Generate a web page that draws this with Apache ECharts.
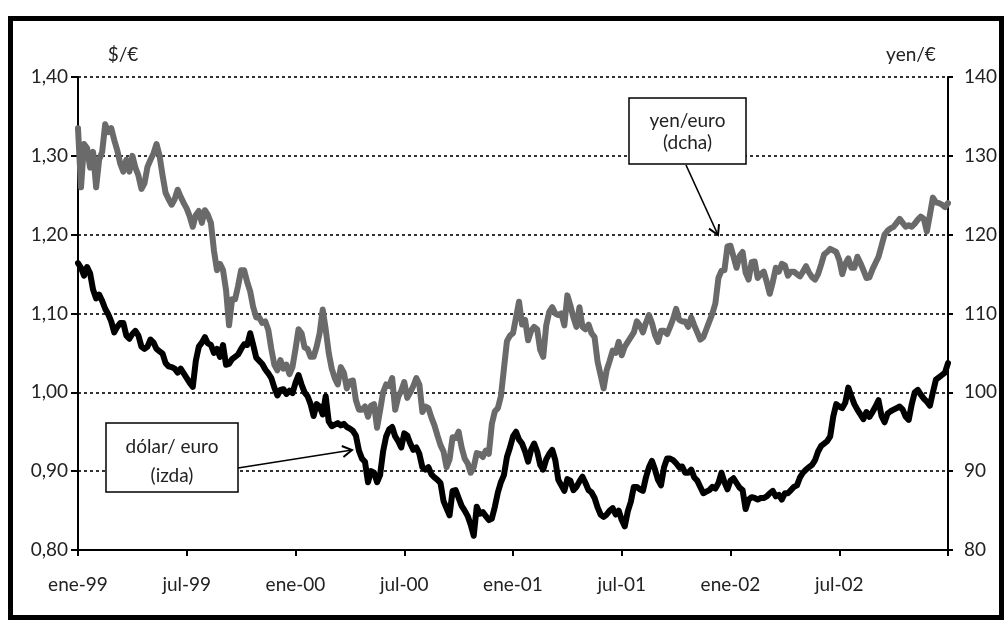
<!DOCTYPE html>
<html>
<head>
<meta charset="utf-8">
<script src="https://cdn.jsdelivr.net/npm/echarts@6/dist/echarts.min.js"></script>
<style>
  html, body { margin: 0; padding: 0; background: #fff; }
  #chart { width: 1008px; height: 621px; }
</style>
</head>
<body>
<div id="chart"></div>
<script>
// Tick labels of the time axis (one every 6 months, starting ene-99)
const timeTickLabels = ['ene-99', 'jul-99', 'ene-00', 'jul-00', 'ene-01', 'jul-01', 'ene-02', 'jul-02'];
// samples are read every 1/6 month from ene-99 to ene-03
const samplesPerMonth = 6;
const leftAxisName = '$/€';
const rightAxisName = 'yen/€';
const yenLabel = ['yen/euro', '(dcha)'];
const usdLabel = ['dólar/ euro', '(izda)'];

// yen per euro (right axis)
const yenEuro = [
  133.5,126.0,131.5,131.0,128.5,130.5,126.0,129.5,130.5,134.0,
  133.0,133.5,132.0,130.7,129.0,128.0,129.5,128.0,130.0,128.5,
  127.5,125.8,126.5,128.6,129.5,130.3,131.5,130.0,127.5,125.3,
  124.5,123.8,124.5,125.7,124.8,124.0,123.3,122.3,121.0,122.5,
  123.0,121.5,123.1,122.5,121.5,118.0,115.5,116.3,115.5,113.0,
  108.5,111.8,111.8,113.5,115.5,115.5,114.0,112.8,110.8,109.5,
  109.5,108.8,109.0,107.9,105.5,103.5,102.8,104.1,103.0,103.5,
  102.3,103.2,105.5,108.0,107.5,105.7,105.5,104.5,104.5,105.8,
  107.5,110.5,108.0,105.0,103.0,101.8,101.0,103.2,102.5,100.5,
  101.4,101.5,99.0,97.8,97.8,98.2,96.9,98.3,98.5,95.5,
  97.7,100.0,101.0,100.8,101.8,97.8,99.4,100.2,101.3,99.3,
  100.0,100.8,101.8,101.0,97.5,98.2,98.0,96.8,95.8,94.5,
  93.3,92.5,90.5,91.5,94.3,94.2,95.0,93.0,91.6,91.0,
  89.8,90.5,92.3,92.2,91.8,92.6,92.2,96.0,97.6,98.0,
  99.5,103.0,106.5,107.2,107.5,109.5,111.5,108.6,109.2,106.6,
  107.8,108.3,108.0,105.4,104.5,108.5,110.2,110.8,110.0,109.8,
  110.0,108.5,112.3,111.0,109.5,108.3,110.8,108.3,108.0,108.6,
  107.5,107.0,103.9,102.2,100.5,102.8,104.0,105.3,105.0,106.4,
  104.7,105.8,106.4,107.0,107.6,109.0,108.5,107.6,108.8,109.8,
  108.8,107.3,106.4,107.8,107.8,107.4,108.3,109.3,110.6,109.2,
  109.0,109.0,108.3,109.5,108.5,107.6,106.7,107.0,108.0,109.0,
  110.0,111.3,114.5,115.4,115.5,118.5,118.6,117.2,115.8,117.3,
  117.8,115.2,114.3,116.5,116.6,114.5,115.0,115.3,114.0,112.5,
  114.0,115.8,115.3,116.3,116.1,114.8,115.3,115.3,115.0,114.7,
  115.3,116.0,115.2,114.6,114.3,115.0,116.2,117.5,117.8,118.2,
  118.0,117.8,116.8,115.0,116.3,117.0,115.8,115.8,117.2,116.4,
  115.5,114.5,114.6,115.6,116.4,117.2,118.6,120.0,120.5,120.8,
  121.0,121.5,122.0,121.5,121.0,121.2,121.0,121.4,121.9,122.3,
  122.0,120.4,122.5,124.7,124.1,124.0,123.8,123.5,124.0
];

// dollars per euro (left axis)
const usdEuro = [
  1.164,1.158,1.148,1.159,1.151,1.130,1.119,1.124,1.116,1.106,
  1.099,1.090,1.076,1.083,1.088,1.088,1.072,1.068,1.074,1.078,
  1.072,1.058,1.055,1.058,1.067,1.063,1.055,1.052,1.049,1.037,
  1.033,1.032,1.030,1.025,1.030,1.024,1.018,1.012,1.007,1.040,
  1.058,1.063,1.070,1.062,1.060,1.050,1.055,1.045,1.060,1.035,
  1.036,1.042,1.045,1.048,1.055,1.061,1.060,1.075,1.060,1.044,
  1.040,1.036,1.029,1.024,1.018,1.006,0.996,1.003,1.004,0.998,
  1.002,0.999,1.012,1.022,1.010,1.000,0.995,0.985,0.970,0.985,
  0.982,0.972,0.995,0.963,0.957,0.959,0.961,0.958,0.960,0.956,
  0.954,0.951,0.945,0.926,0.916,0.912,0.886,0.900,0.898,0.886,
  0.895,0.925,0.944,0.953,0.956,0.944,0.938,0.930,0.948,0.945,
  0.935,0.927,0.930,0.922,0.905,0.902,0.905,0.896,0.892,0.889,
  0.885,0.862,0.853,0.844,0.875,0.876,0.866,0.856,0.850,0.843,
  0.832,0.818,0.855,0.846,0.848,0.843,0.838,0.840,0.855,0.873,
  0.886,0.895,0.918,0.930,0.944,0.950,0.940,0.935,0.925,0.912,
  0.927,0.935,0.925,0.908,0.902,0.915,0.922,0.927,0.914,0.889,
  0.882,0.875,0.890,0.888,0.876,0.880,0.887,0.893,0.885,0.876,
  0.873,0.866,0.854,0.845,0.842,0.845,0.850,0.853,0.845,0.850,
  0.838,0.830,0.849,0.861,0.880,0.880,0.877,0.875,0.892,0.905,
  0.913,0.902,0.889,0.882,0.905,0.916,0.916,0.914,0.910,0.905,
  0.906,0.898,0.898,0.902,0.892,0.888,0.880,0.872,0.874,0.876,
  0.880,0.878,0.885,0.898,0.886,0.877,0.888,0.891,0.885,0.879,
  0.876,0.852,0.864,0.867,0.866,0.864,0.866,0.866,0.868,0.872,
  0.875,0.868,0.870,0.864,0.872,0.872,0.876,0.880,0.882,0.892,
  0.898,0.902,0.905,0.908,0.914,0.925,0.932,0.935,0.938,0.944,
  0.969,0.985,0.982,0.980,0.987,1.006,0.995,0.985,0.978,0.972,
  0.966,0.975,0.969,0.975,0.982,0.990,0.970,0.962,0.973,0.976,
  0.978,0.980,0.982,0.978,0.969,0.965,0.985,1.000,1.003,0.997,
  0.992,0.988,0.983,1.000,1.016,1.019,1.022,1.025,1.037
];

const toPairs = arr => arr.map((v, i) => [i / samplesPerMonth, v]);

const FONT = 'Lato';
const FS = 19;
const chart = echarts.init(document.getElementById('chart'), null, { renderer: 'canvas' });

function arrow(x1, y1, x2, y2) {
  const ang = Math.atan2(y2 - y1, x2 - x1);
  const L = 11, a = Math.PI / 6;
  const p1 = [x2 - L * Math.cos(ang - a), y2 - L * Math.sin(ang - a)];
  const p2 = [x2 - L * Math.cos(ang + a), y2 - L * Math.sin(ang + a)];
  return [
    { type: 'line', z: 100, shape: { x1, y1, x2, y2 }, style: { stroke: '#000', lineWidth: 1.6 } },
    { type: 'polyline', z: 100, shape: { points: [p1, [x2, y2], p2] }, style: { stroke: '#000', lineWidth: 2, fill: null } }
  ];
}

function box(x, y, w, h, lines, cx, y0, dy) {
  const els = [{ type: 'rect', z: 99, shape: { x, y, width: w, height: h },
    style: { fill: '#fff', stroke: '#000', lineWidth: 1.5 } }];
  lines.forEach((t, i) => els.push({ type: 'text', z: 101, x: cx, y: y0 + i * dy,
    style: { text: t, font: FS + 'px ' + FONT, fill: '#222', align: 'center', verticalAlign: 'middle' } }));
  return els;
}

const option = {
  backgroundColor: '#fff',
  animation: false,
  grid: { left: 78, right: 60, top: 77, bottom: 71, containLabel: false },
  xAxis: {
    type: 'value', min: 0, max: 48, interval: 6,
    axisLine: { show: true, lineStyle: { color: '#000', width: 2 } },
    axisTick: { show: true, length: 6, lineStyle: { color: '#000', width: 2 } },
    axisLabel: { margin: 25, fontFamily: FONT, fontSize: FS, color: '#222',
      formatter: v => timeTickLabels[Math.round(v / 6)] || '' },
    splitLine: { show: false }
  },
  yAxis: [
    {
      type: 'value', min: 0.8, max: 1.4, interval: 0.1, position: 'left',
      axisLine: { show: true, lineStyle: { color: '#000', width: 2 } },
      axisTick: { show: true, length: 7, lineStyle: { color: '#000', width: 2 } },
      axisLabel: { margin: 10, fontFamily: FONT, fontSize: FS, color: '#222',
        formatter: v => v.toFixed(2).replace('.', ',') },
      splitLine: { show: true, lineStyle: { color: '#000', width: 1.6, type: [3, 3] } }
    },
    {
      type: 'value', min: 80, max: 140, interval: 10, position: 'right',
      axisLine: { show: true, lineStyle: { color: '#000', width: 2 } },
      axisTick: { show: true, length: 5, lineStyle: { color: '#000', width: 2 } },
      axisLabel: { margin: 16, fontFamily: FONT, fontSize: FS, color: '#222' },
      splitLine: { show: false }
    }
  ],
  series: [
    {
      name: 'yen/euro', type: 'line', yAxisIndex: 1, data: toPairs(yenEuro),
      showSymbol: false, smooth: false, z: 2,
      lineStyle: { color: '#6a6a6a', width: 6, join: 'round', cap: 'round' }
    },
    {
      name: 'dólar/euro', type: 'line', yAxisIndex: 0, data: toPairs(usdEuro),
      showSymbol: false, smooth: false, z: 3,
      lineStyle: { color: '#000', width: 6, join: 'round', cap: 'round' }
    }
  ],
  graphic: [
    { type: 'rect', z: 0, shape: { x: 10.5, y: 18.5, width: 991, height: 599 },
      style: { fill: null, stroke: '#000', lineWidth: 5 } },
    { type: 'text', x: 123, y: 55, style: { text: leftAxisName, font: FS + 'px ' + FONT, fill: '#222', align: 'center', verticalAlign: 'middle' } },
    { type: 'text', x: 911, y: 55, style: { text: rightAxisName, font: FS + 'px ' + FONT, fill: '#222', align: 'center', verticalAlign: 'middle' } },
    ...box(629, 98, 117, 66, yenLabel, 687.5, 121, 22),
    ...arrow(686, 165, 718, 235),
    ...box(106, 423, 132, 69, usdLabel, 172, 447, 29),
    ...arrow(238, 468, 352, 450)
  ]
};
chart.setOption(option);
</script>
</body>
</html>
